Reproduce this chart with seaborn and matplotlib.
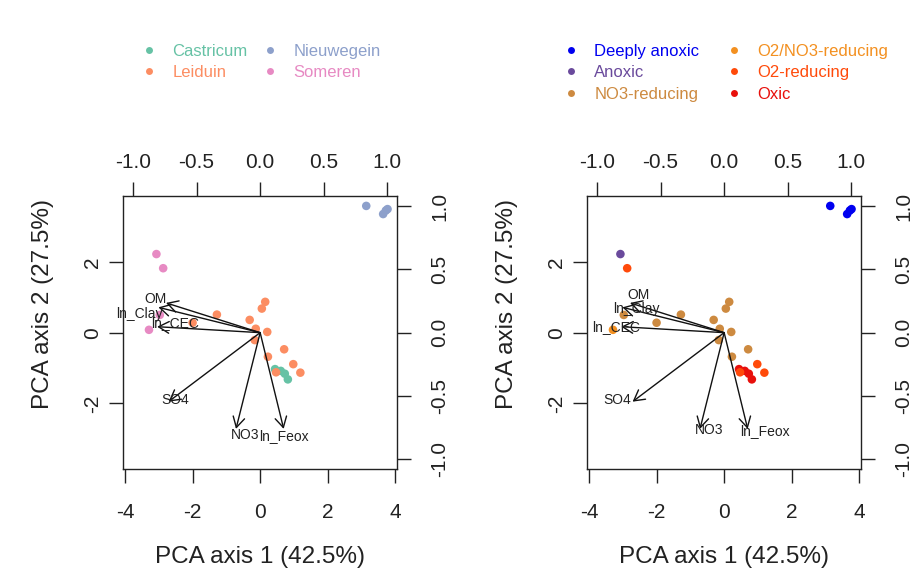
import numpy as np
import pandas as pd
import matplotlib
matplotlib.use("Agg")
import matplotlib.pyplot as plt
import seaborn as sns
from matplotlib.lines import Line2D

# ---- data ----
pc1 = [3.14, 3.64, 3.72, 3.77,
       -3.07, -2.87, -3.29, -2.97,
       0.44, 0.61, 0.73, 0.82,
       -1.28, -2.00, -0.31, -0.13, 0.05, 0.15, 0.21, -0.16, 0.23, 0.71, 0.98, 1.19, 0.47]
pc2 = [3.58, 3.35, 3.45, 3.49,
       2.22, 1.82, 0.08, 0.50,
       -1.03, -1.08, -1.16, -1.32,
       0.51, 0.28, 0.36, 0.11, 0.68, 0.87, 0.02, -0.21, -0.68, -0.47, -0.89, -1.13, -1.12]
site = (["Nieuwegein"] * 4 + ["Someren"] * 4 + ["Castricum"] * 4 + ["Leiduin"] * 13)
redox = (["Deeply anoxic"] * 4
         + ["Anoxic", "O2-reducing", "O2/NO3-reducing", "NO3-reducing"]
         + ["Oxic"] * 4
         + ["NO3-reducing"] * 10 + ["O2-reducing"] * 3)

site_levels = ["Castricum", "Leiduin", "Nieuwegein", "Someren"]
site_colors = ["#66C2A5", "#FC8D62", "#8DA0CB", "#E78AC3"]
redox_levels = ["Deeply anoxic", "Anoxic", "NO3-reducing",
                "O2/NO3-reducing", "O2-reducing", "Oxic"]
redox_colors = ["#0000F0", "#6A4A9C", "#CD8A40", "#F39020", "#FF4A0A", "#E8100C"]

load_names = ["OM", "ln_Clay", "ln_CEC", "SO4", "NO3", "ln_Feox"]
load_x = [-0.74, -0.80, -0.81, -0.72, -0.19, 0.185]
load_y = [0.235, 0.20, 0.047, -0.545, -0.76, -0.76]
lab_left_x = [-0.821, -0.947, -0.672, -0.664, -0.118, 0.189]
lab_left_y = [0.262, 0.150, 0.074, -0.530, -0.807, -0.815]
lab_right_x = [-0.675, -0.691, -0.853, -0.840, -0.115, 0.317]
lab_right_y = [0.296, 0.186, 0.047, -0.531, -0.768, -0.773]

xlabel = "PCA axis 1 (42.5%)"
ylabel = "PCA axis 2 (27.5%)"

df = pd.DataFrame({"PC1": pc1, "PC2": pc2, "site": site, "redox": redox})

sns.set_theme(style="ticks")
plt.rcParams["font.family"] = ["Liberation Sans", "DejaVu Sans"]
plt.rcParams["axes.unicode_minus"] = False

W, H = 923, 583
fig = plt.figure(figsize=(W / 100, H / 100), dpi=100)

XL, YL = 4.05, 3.86
SXL, SYL = 1.076, 1.079
tick_fs = 15
dark = "#222222"


def make_panel(x0px, hue, levels, colors, labx, laby):
    pos = [x0px / W, (H - 469.3) / H, 273.7 / W, 273.3 / H]
    ax = fig.add_axes(pos)
    sns.scatterplot(data=df, x="PC1", y="PC2", hue=hue, hue_order=levels,
                    palette=dict(zip(levels, colors)), s=38, linewidth=0,
                    legend=False, ax=ax, zorder=3)
    ax.set_xlim(-XL, XL)
    ax.set_ylim(-YL, YL)
    ax.set_xticks([-4, -2, 0, 2, 4])
    ax.set_yticks([-2, 0, 2])
    ax.tick_params(axis="both", direction="out", length=10, width=1.0,
                   color=dark, labelsize=tick_fs, labelcolor=dark)
    ax.tick_params(axis="x", pad=14)
    ax.tick_params(axis="y", pad=5)
    for lab in ax.get_yticklabels():
        lab.set_rotation(90)
        lab.set_va("center")
    for sp in ax.spines.values():
        sp.set_color(dark)
        sp.set_linewidth(1.0)
    ax.set_xlabel(xlabel, fontsize=17.5, color=dark)
    ax.xaxis.set_label_coords(0.5, -0.322)
    ax.xaxis.label.set_va("center")
    ax.set_ylabel(ylabel, fontsize=17.5, color=dark, va="center", ha="center")
    ax.yaxis.set_label_coords(-0.293, 0.605)

    ax2 = fig.add_axes(pos, facecolor="none")
    ax2.set_xlim(-SXL, SXL)
    ax2.set_ylim(-SYL, SYL)
    ax2.xaxis.tick_top()
    ax2.yaxis.tick_right()
    ax2.set_xticks([-1, -0.5, 0, 0.5, 1])
    ax2.set_yticks([-1, -0.5, 0, 0.5, 1])
    ax2.set_xticklabels(["-1.0", "-0.5", "0.0", "0.5", "1.0"])
    ax2.set_yticklabels(["-1.0", "-0.5", "0.0", "0.5", "1.0"])
    ax2.tick_params(axis="both", direction="out", length=10, width=1.0,
                    color=dark, labelsize=tick_fs, labelcolor=dark)
    ax2.tick_params(axis="x", pad=7)
    ax2.tick_params(axis="y", pad=14)
    for lab in ax2.get_yticklabels():
        lab.set_rotation(90)
        lab.set_va("center")
    for sp in ax2.spines.values():
        sp.set_visible(False)

    for nm, lx, ly, tx, ty in zip(load_names, load_x, load_y, labx, laby):
        ax2.annotate("", xy=(lx, ly), xytext=(0, 0),
                     arrowprops=dict(arrowstyle="->,head_length=0.75,head_width=0.42",
                                     color="#111111", lw=1.0, shrinkA=0, shrinkB=0,
                                     mutation_scale=10))
        ax2.text(tx, ty, nm, fontsize=10, color="#222222", ha="center",
                 va="center", clip_on=False)
    return ax, ax2


make_panel(123.3, "site", site_levels, site_colors, lab_left_x, lab_left_y)
make_panel(587.3, "redox", redox_levels, redox_colors, lab_right_x, lab_right_y)


def add_legend(levels, colors, x_px, colspace):
    handles = [Line2D([0], [0], marker="o", linestyle="none", markersize=5,
                      markerfacecolor=c, markeredgewidth=0, label=l)
               for l, c in zip(levels, colors)]
    fig.legend(handles=handles, ncol=2, loc="upper left",
               bbox_to_anchor=(x_px / W, 1 - 44 / H), frameon=False,
               fontsize=12, labelcolor=colors, handlelength=1.0,
               handletextpad=0.9, columnspacing=colspace, labelspacing=0.38,
               borderpad=0, borderaxespad=0)


add_legend(site_levels, site_colors, 140.7, 0.85)
add_legend(redox_levels, redox_colors, 562.7, 1.6)

fig.savefig("out.png", dpi=100)
